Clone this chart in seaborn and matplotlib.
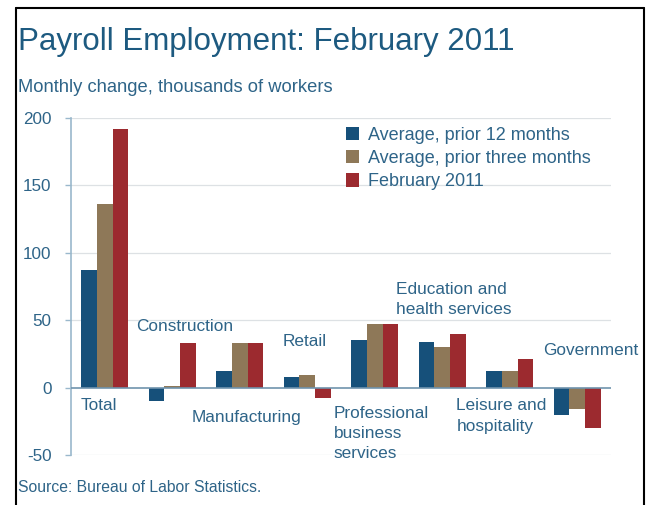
import matplotlib
matplotlib.use("Agg")
import matplotlib.pyplot as plt
import seaborn as sns
import pandas as pd
from matplotlib.lines import Line2D
from matplotlib.patches import Patch

categories = ["Total", "Construction", "Manufacturing", "Retail",
              "Professional business services", "Education and health services",
              "Leisure and hospitality", "Government"]
series_names = ["Average, prior 12 months", "Average, prior three months", "February 2011"]
avg_12 = [87, -10, 12, 8, 35, 34, 12, -20]
avg_3 = [136, 1, 33, 9, 47, 30, 12, -16]
feb_2011 = [192, 33, 33, -8, 47, 40, 21, -30]
yticks = [-50, 0, 50, 100, 150, 200]
cat_labels = ["Total", "Construction", "Manufacturing", "Retail",
              "Professional\nbusiness\nservices", "Education and\nhealth services",
              "Leisure and\nhospitality", "Government"]
label_pos = [(-0.36, -13), (0.47, 45), (1.29, -22), (2.64, 34),
             (3.39, -34), (4.31, 65.5), (5.21, -21), (6.49, 27.5)]

sns.set_theme(style="white")
plt.rcParams['font.family'] = ['Liberation Sans', 'DejaVu Sans']

rows = []
for s, vals in zip(series_names, [avg_12, avg_3, feb_2011]):
    for c, v in zip(categories, vals):
        rows.append({"category": c, "series": s, "value": v})
df = pd.DataFrame(rows)

colors = ["#16507a", "#8e7858", "#9c2a2f"]
text_col = "#2e6488"

fig = plt.figure(figsize=(6.46, 5.05), dpi=100)
ax = fig.add_axes([71/646, 1-455/505, 540/646, 337/505])

sns.barplot(data=df, x="category", y="value", hue="series", order=categories,
            hue_order=series_names, palette=colors, width=0.70, saturation=1,
            ax=ax, legend=False, linewidth=0)

ax.set_xlim(-0.5, 7.5)
ax.set_ylim(-50, 200)
ax.set_yticks(yticks)
ax.set_yticklabels([str(t) for t in yticks], fontsize=12.3, color=text_col)
ax.set_xticks([])
ax.set_xlabel("")
ax.set_ylabel("")
for t in [50, 100, 150, 200, -50]:
    ax.axhline(t, color="#dde1e4", lw=0.9, zorder=0)
ax.axhline(0, color="#6f93ad", lw=1.2, zorder=3)
for sp in ["top", "right", "bottom"]:
    ax.spines[sp].set_visible(False)
ax.spines["left"].set_color("#9ab8cc")
ax.spines["left"].set_linewidth(1.2)
ax.tick_params(axis="y", left=True, direction="out", length=4, width=1,
               color="#9ab8cc", pad=10)

for lab, (x, y) in zip(cat_labels, label_pos):
    ax.text(x, y, lab, ha="left", va="center", fontsize=12.4, color=text_col,
            linespacing=1.45, clip_on=False)

handles = [Patch(facecolor=c, edgecolor="none") for c in colors]
leg = ax.legend(handles, series_names, loc="upper left", bbox_to_anchor=(0.485, 1.012),
                frameon=False, fontsize=13, handlelength=0.75, handleheight=0.75,
                handletextpad=0.5, labelspacing=0.35, borderaxespad=0.3)
for t in leg.get_texts():
    t.set_color(text_col)

fig.text(18/646, 1-42/505, "Payroll Employment: February 2011", fontsize=22.5,
         color="#1d5a80", ha="left", va="center")
fig.text(18/646, 1-88/505, "Monthly change, thousands of workers", fontsize=13.2,
         color=text_col, ha="left", va="center")
fig.text(18/646, 1-488/505, "Source: Bureau of Labor Statistics.", fontsize=11.3,
         color=text_col, ha="left", va="center")

# outer frame (open at bottom)
fig.add_artist(Line2D([16/646, 16/646], [0, 1-8/505], transform=fig.transFigure, color="black", lw=1.5))
fig.add_artist(Line2D([16/646, 644/646], [1-8/505, 1-8/505], transform=fig.transFigure, color="black", lw=1.5))
fig.add_artist(Line2D([644/646, 644/646], [0, 1-8/505], transform=fig.transFigure, color="black", lw=1.5))

fig.savefig("out.png", dpi=100)
